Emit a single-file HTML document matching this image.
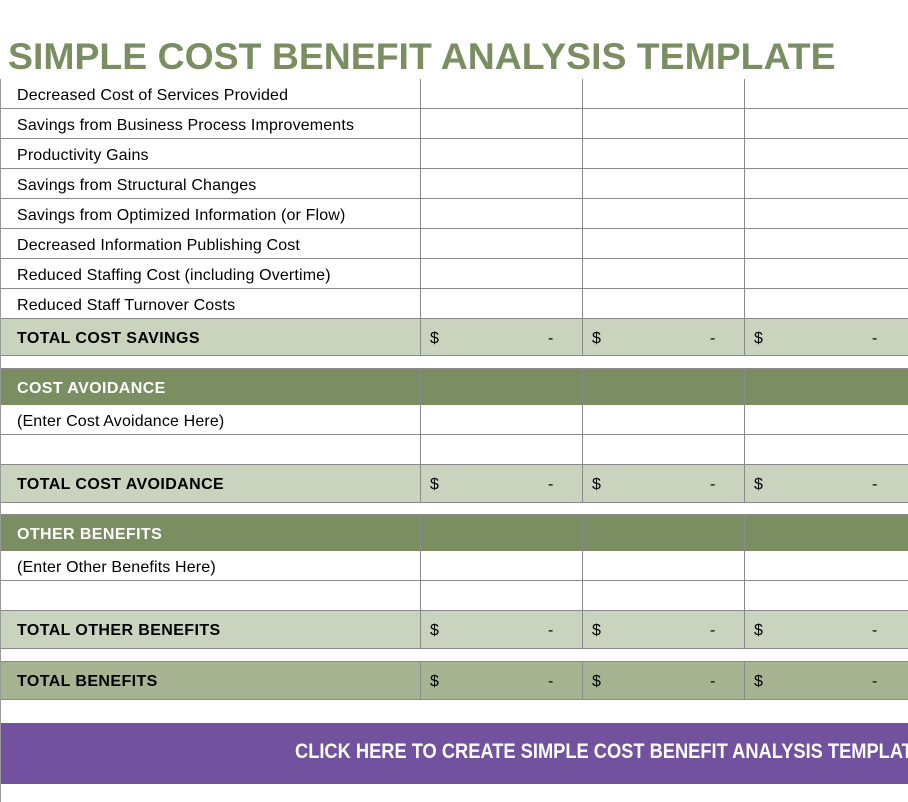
<!DOCTYPE html>
<html><head><style>
body{margin:0;width:908px;height:802px;overflow:hidden;background:#fff;position:relative;font-family:"Liberation Sans",Arial,sans-serif}
.t{position:absolute;left:8px;top:35px;font-size:37.4px;font-weight:bold;color:#7b8e62;white-space:nowrap}
.r{position:absolute;left:1px;width:907px;border-bottom:1px solid #8a8a8a;box-sizing:border-box}
.c{position:absolute;top:0;bottom:0;border-left:1px solid #8a8a8a}
.l{position:absolute;left:16px;font-size:16px;color:#000;white-space:nowrap;letter-spacing:0.15px}
.b{font-weight:bold;letter-spacing:0.4px}
.w{color:#fff}
.d{position:absolute;font-size:16px}
.vl{position:absolute;left:0;top:79px;height:723px;border-left:1px solid #999}
</style></head><body>
<div class="t">SIMPLE COST BENEFIT ANALYSIS TEMPLATE</div>
<div class="vl"></div>
<div id="rows"></div>
<div style="position:absolute;left:1px;top:723px;width:907px;height:61px;background:#72519f;overflow:hidden">
<div style="position:absolute;left:294px;top:17px;font-size:21px;font-weight:bold;color:#fff;white-space:nowrap;transform:scaleX(0.87);transform-origin:0 0">CLICK HERE TO CREATE SIMPLE COST BENEFIT ANALYSIS TEMPLATE IN SMARTSHEET</div></div>
<script>
var R=[
["Decreased Cost of Services Provided",79,30,"#fff",0],
["Savings from Business Process Improvements",109,30,"#fff",0],
["Productivity Gains",139,30,"#fff",0],
["Savings from Structural Changes",169,30,"#fff",0],
["Savings from Optimized Information (or Flow)",199,30,"#fff",0],
["Decreased Information Publishing Cost",229,30,"#fff",0],
["Reduced Staffing Cost (including Overtime)",259,30,"#fff",0],
["Reduced Staff Turnover Costs",289,30,"#fff",0],
["TOTAL COST SAVINGS",319,37,"#c9d3bd",1],
["COST AVOIDANCE",369,37,"#7b8e62",2],
["(Enter Cost Avoidance Here)",405,30,"#fff",0],
["",435,30,"#fff",0],
["TOTAL COST AVOIDANCE",465,38,"#c9d3bd",1],
["OTHER BENEFITS",515,37,"#7b8e62",2],
["(Enter Other Benefits Here)",551,30,"#fff",0],
["",581,30,"#fff",0],
["TOTAL OTHER BENEFITS",611,38,"#c9d3bd",1],
["TOTAL BENEFITS",662,38,"#a7b492",1]];
var h="";
R.forEach(function(r){
var top=r[4]?r[1]-1:r[1];
h+='<div class="r" style="top:'+top+'px;height:'+(r[2]+(r[4]?1:0))+'px;background:'+r[3]+';'+(r[4]?'border-top:1px solid #8a8a8a;':'')+'">';
[419,581,743].forEach(function(x){h+='<div class="c" style="left:'+x+'px"></div>';});
var ty=Math.round((r[2]-18)/2)+(r[4]?1:2);
h+='<div class="l '+(r[4]?'b ':'')+(r[4]==2?'w':'')+'" style="top:'+ty+'px">'+r[0]+'</div>';
if(r[4]==1){[419,581,743].forEach(function(x){h+='<div class="d" style="left:'+(x+10)+'px;top:'+ty+'px">$</div><div class="d" style="left:'+(x+128)+'px;top:'+ty+'px">-</div>';});}
h+='</div>';});
document.getElementById("rows").innerHTML=h;
</script>
</body></html>
